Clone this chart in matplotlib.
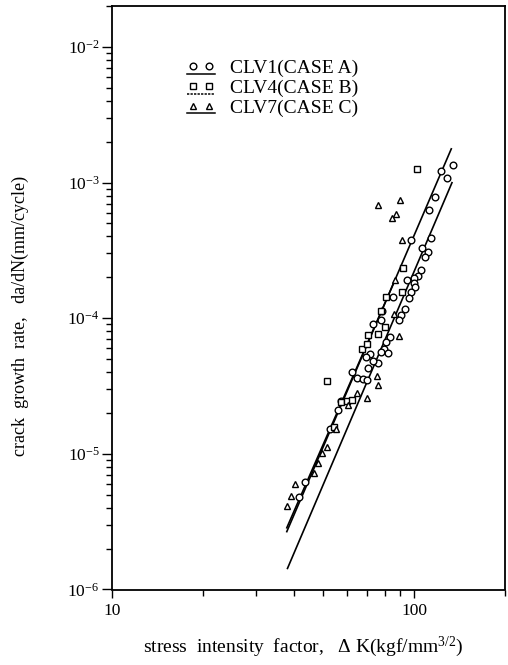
import matplotlib
matplotlib.use("Agg")
import matplotlib.pyplot as plt
from matplotlib.ticker import FixedLocator, LogLocator, NullFormatter, FixedFormatter

plt.rcParams['font.family'] = ['Liberation Serif', 'DejaVu Serif']
plt.rcParams['mathtext.fontset'] = 'custom'
plt.rcParams['mathtext.rm'] = 'Liberation Serif'
plt.rcParams['mathtext.it'] = 'Liberation Serif:italic'

# ---- data ----
A_K = [134.5, 122.5, 128.8, 117.6, 112.1, 113.5, 98.0, 106.3, 111.2, 109.0,
       105.2, 103.1, 99.8, 100.0, 95.0, 101.0, 97.5, 96.0, 85.2, 93.6,
       90.8, 89.0, 78.4, 77.6, 73.2, 83.2, 81.0, 79.6, 82.1, 78.0,
       76.1, 73.2, 71.4, 69.1, 70.5, 62.1, 64.5, 67.9, 69.6, 55.8,
       52.7, 43.6, 41.6, 57.5]
A_rate = [1.34e-3, 1.21e-3, 1.08e-3, 7.84e-4, 6.32e-4, 3.91e-4, 3.75e-4, 3.30e-4, 3.06e-4, 2.83e-4,
          2.25e-4, 2.06e-4, 1.98e-4, 1.82e-4, 1.92e-4, 1.70e-4, 1.55e-4, 1.41e-4, 1.43e-4, 1.17e-4,
          1.06e-4, 9.63e-5, 1.12e-4, 9.75e-5, 9.11e-5, 7.27e-5, 6.63e-5, 5.95e-5, 5.53e-5, 5.59e-5,
          4.67e-5, 4.80e-5, 5.47e-5, 5.17e-5, 4.29e-5, 3.98e-5, 3.62e-5, 3.56e-5, 3.52e-5, 2.11e-5,
          1.52e-5, 6.25e-6, 4.84e-6, 2.47e-5]

B_K = [102.3, 51.4, 67.0, 70.1, 76.1, 91.3, 92.0, 78.0, 57.5, 59.8,
       62.1, 54.5, 81.0, 70.5, 80.1]
B_rate = [1.26e-3, 3.46e-5, 5.92e-5, 6.45e-5, 7.69e-5, 1.55e-4, 2.35e-4, 1.12e-4, 2.41e-5, 2.47e-5,
          2.50e-5, 1.57e-5, 1.44e-4, 7.55e-5, 8.61e-5]

C_K = [76.1, 90.1, 84.2, 87.4, 91.5, 85.9, 89.0, 86.8, 75.1, 76.1,
       64.5, 69.6, 60.6, 55.0, 51.4, 49.7, 48.2, 46.8, 40.4, 39.1, 38.1]
C_rate = [6.88e-4, 7.40e-4, 5.49e-4, 5.81e-4, 3.75e-4, 1.08e-4, 7.34e-5, 1.92e-4, 3.72e-5, 3.23e-5,
          2.83e-5, 2.60e-5, 2.30e-5, 1.52e-5, 1.13e-5, 1.01e-5, 8.54e-6, 7.21e-6, 6.01e-6, 4.90e-6, 4.13e-6]

# fitted lines (end points)
fitA_K = [38.1, 133.5]
fitA_rate = [1.43e-6, 9.97e-4]
fitB_K = [37.9, 132.8]
fitB_rate = [2.67e-6, 1.77e-3]
fitC_K = [37.9, 87.0]
fitC_rate = [2.85e-6, 1.97e-4]

legend_labels = ["CLV1(CASE A)", "CLV4(CASE B)", "CLV7(CASE C)"]
x_ticks = [10, 100]
x_ticklabels = ["10", "100"]
y_ticks = [1e-6, 1e-5, 1e-4, 1e-3, 1e-2]
y_ticklabels = [r"$10^{-6}$", r"$10^{-5}$", r"$10^{-4}$", r"$10^{-3}$", r"$10^{-2}$"]

# ---- figure ----
fig = plt.figure(figsize=(5.08, 6.65), dpi=100)
ax = fig.add_axes([112/508, 75.5/665, 393/508, 583.5/665])
ax.set_xscale('log')
ax.set_yscale('log')
ax.set_xlim(10, 200)
ax.set_ylim(1e-6, 2e-2)

mk = dict(linestyle='none', markerfacecolor='white', markeredgecolor='black',
          markeredgewidth=1.0, color='black', zorder=3)
ax.plot(A_K, A_rate, marker='o', markersize=4.8, **mk)
ax.plot(B_K, B_rate, marker='s', markersize=4.4, **mk)
ax.plot(C_K, C_rate, marker='^', markersize=4.4, **mk)

ax.plot(fitA_K, fitA_rate, color='black', lw=1.2, zorder=2)
ax.plot(fitB_K, fitB_rate, color='black', lw=1.2, zorder=2)
ax.plot(fitC_K, fitC_rate, color='black', lw=1.2, zorder=2)

# ticks
ax.xaxis.set_major_locator(FixedLocator(x_ticks))
ax.xaxis.set_major_formatter(FixedFormatter(x_ticklabels))
ax.xaxis.set_minor_locator(LogLocator(base=10, subs=range(2, 10)))
ax.xaxis.set_minor_formatter(NullFormatter())
ax.yaxis.set_major_locator(FixedLocator(y_ticks))
ax.yaxis.set_major_formatter(FixedFormatter(y_ticklabels))
ax.yaxis.set_minor_locator(LogLocator(base=10, subs=range(2, 10)))
ax.yaxis.set_minor_formatter(NullFormatter())

ax.tick_params(axis='x', which='major', direction='out', length=6, width=1.0,
               labelsize=12.5, pad=4, top=False)
ax.tick_params(axis='x', which='minor', direction='out', length=4, width=1.0, top=False)
ax.tick_params(axis='y', which='major', direction='out', length=7, width=1.0,
               labelsize=12.5, pad=2, right=False)
ax.tick_params(axis='y', which='minor', direction='out', length=4.5, width=1.0, right=False)
for s in ax.spines.values():
    s.set_linewidth(1.3)

ax.set_xlabel(r"stress  intensity  factor,   Δ K(kgf/mm$^{3/2}$)", fontsize=14)
ax.xaxis.set_label_coords(0.487, -0.098)
ax.xaxis.label.set_va('center')
ax.set_ylabel("crack  growth  rate,   da/dN(mm/cycle)", fontsize=13)
ax.yaxis.set_label_coords(-0.234, 0.469)
ax.yaxis.label.set_va('center')

# legend (drawn manually: two symbols above a short line)
rows_y = [0.893, 0.859, 0.825]
markers = ['o', 's', '^']
msizes = [4.8, 4.4, 4.4]
lstyles = ['-', (0, (1.5, 0.8)), '-']
for yy, m, ms, ls, lab in zip(rows_y, markers, msizes, lstyles, legend_labels):
    ax.plot([0.206, 0.247], [yy + 0.004, yy + 0.004], transform=ax.transAxes,
            marker=m, markersize=ms, linestyle='none', markerfacecolor='white',
            markeredgecolor='black', markeredgewidth=1.0, clip_on=False)
    ax.plot([0.191, 0.262], [yy - 0.009, yy - 0.009], transform=ax.transAxes,
            color='black', lw=1.1, linestyle=ls)
    ax.text(0.300, yy, lab, transform=ax.transAxes, fontsize=14, va='center', ha='left')

fig.savefig("out.png", dpi=100)
